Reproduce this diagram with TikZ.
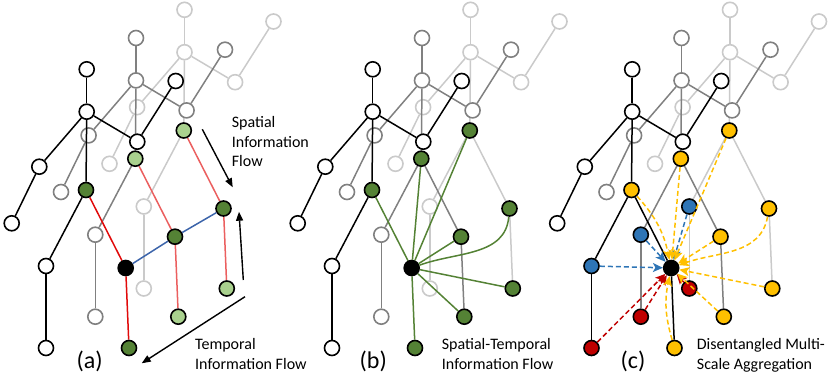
\documentclass[tikz,border=0pt]{standalone}
\usepackage{fontspec}
\setmainfont{Carlito}
\usetikzlibrary{arrows.meta}
\pgfdeclarelayer{f3e}\pgfdeclarelayer{f3n}
\pgfdeclarelayer{f2e}\pgfdeclarelayer{f2n}
\pgfdeclarelayer{f1e}\pgfdeclarelayer{f1n}
\pgfsetlayers{f3e,f3n,f2e,f2n,f1e,f1n,main}
\definecolor{dgreen}{RGB}{84,130,53}
\definecolor{lgreen}{RGB}{169,209,142}
\definecolor{nblue}{RGB}{46,117,182}
\definecolor{nred}{RGB}{192,0,0}
\definecolor{nyel}{RGB}{255,192,0}
\definecolor{redA}{RGB}{225,10,10}
\definecolor{redL}{RGB}{235,95,95}
\definecolor{lblue}{RGB}{60,100,170}
\definecolor{gA}{RGB}{128,128,128}
\definecolor{gB}{RGB}{202,202,202}
\tikzset{
 jn/.style={circle,minimum size=15pt,inner sep=0pt,line width=1.6pt,fill=white},
 bone/.style={line width=1.5pt},
 cn/.style={/tikz/fill=#1,/tikz/draw=black},
 nodehook/.style={/jst/#1/.try},
 edgehook/.style={/est/#1/.try},
 flow/.style={line width=1.4pt,-{Triangle[length=9pt,width=7pt]}},
 dsh/.style={line width=1.5pt,dash pattern=on 5pt off 3pt,-{Stealth[length=10pt,width=9pt,inset=2.5pt]}},
 ydash/.style={dsh,draw=nyel},
 bdash/.style={dsh,draw=nblue},
 rdash/.style={dsh,draw=nred},
 gline/.style={line width=1.5pt,draw=dgreen},
 lab/.style={font=\fontsize{16}{19.5}\selectfont,align=left,inner sep=0pt},
 plab/.style={font=\fontsize{24}{28}\selectfont,inner sep=0pt},
 % panel (a)
 /jst/a1P/.style={/tikz/cn=dgreen},
 /jst/a1K2/.style={/tikz/cn=black},
 /jst/a1F2/.style={/tikz/cn=dgreen},
 /jst/a2P/.style={/tikz/cn=lgreen},
 /jst/a2K2/.style={/tikz/cn=dgreen},
 /jst/a2F2/.style={/tikz/cn=lgreen},
 /jst/a3P/.style={/tikz/cn=lgreen},
 /jst/a3K2/.style={/tikz/cn=dgreen},
 /jst/a3F2/.style={/tikz/cn=lgreen},
 /est/a1PK2/.style={/tikz/draw=redA},
 /est/a1K2F2/.style={/tikz/draw=redA},
 /est/a2PK2/.style={/tikz/draw=redL},
 /est/a2K2F2/.style={/tikz/draw=redL},
 /est/a3PK2/.style={/tikz/draw=redL},
 /est/a3K2F2/.style={/tikz/draw=redL},
 % panel (b)
 /jst/b1K2/.style={/tikz/cn=black},
 /jst/b1P/.style={/tikz/cn=dgreen},
 /jst/b2P/.style={/tikz/cn=dgreen},
 /jst/b3P/.style={/tikz/cn=dgreen},
 /jst/b2K2/.style={/tikz/cn=dgreen},
 /jst/b3K2/.style={/tikz/cn=dgreen},
 /jst/b1F2/.style={/tikz/cn=dgreen},
 /jst/b2F2/.style={/tikz/cn=dgreen},
 /jst/b3F2/.style={/tikz/cn=dgreen},
 /est/b1PK2/.style={/tikz/draw=dgreen},
 /est/b1K2F2/.style={/tikz/draw=dgreen},
 % panel (c)
 /jst/c1K2/.style={/tikz/cn=black},
 /jst/c1P/.style={/tikz/cn=nyel},
 /jst/c2P/.style={/tikz/cn=nyel},
 /jst/c3P/.style={/tikz/cn=nyel},
 /jst/c2K2/.style={/tikz/cn=nyel},
 /jst/c3K2/.style={/tikz/cn=nyel},
 /jst/c1F2/.style={/tikz/cn=nyel},
 /jst/c2F2/.style={/tikz/cn=nyel},
 /jst/c3F2/.style={/tikz/cn=nyel},
 /jst/c1K1/.style={/tikz/cn=nblue},
 /jst/c2K1/.style={/tikz/cn=nblue},
 /jst/c3K1/.style={/tikz/cn=nblue},
 /jst/c1F1/.style={/tikz/cn=nred},
 /jst/c2F1/.style={/tikz/cn=nred},
 /jst/c3F1/.style={/tikz/cn=nred},
}
% #1 prefix, #2 dx, #3 dy, #4 colour, #5 layer number
\newcommand\skelframe[5]{%
 \begin{pgfonlayer}{f#5n}
 \begin{scope}[shift={(#2,#3)}]
  \foreach \j/\x/\y in {H/86.7/69.3, N/86.7/111.7, E1/137.3/141.7, W1/175.7/81,
     E2/39.3/166.7, W2/11.7/223.3, P/86/190, K1/46/266, F1/46/348, K2/125.7/268, F2/129/348}
   {\node[jn,draw=#4,nodehook/.expanded={#1\j}] (#1\j) at (\x,-\y) {};}
 \end{scope}
 \end{pgfonlayer}
 \begin{pgfonlayer}{f#5e}
  \foreach \a/\b in {H/N, N/E1, E1/W1, N/E2, E2/W2, N/P, P/K1, K1/F1, P/K2, K2/F2}
   {\draw[bone,draw=#4,edgehook/.expanded={#1\a\b}] (#1\a) -- (#1\b);}
 \end{pgfonlayer}}
\begin{document}
\begin{tikzpicture}[x=1pt,y=1pt]
\useasboundingbox (0,0) rectangle (830,-374);
% panel (a)
\skelframe{a3}{97.8}{59.5}{gB}{3}
\skelframe{a2}{49.3}{31.3}{gA}{2}
\skelframe{a1}{0}{0}{black}{1}
% panel (b)
\skelframe{b3}{383.8}{59.5}{gB}{3}
\skelframe{b2}{335.3}{31.3}{gA}{2}
\skelframe{b1}{286}{0}{black}{1}
% panel (c)
\skelframe{c3}{643.3}{59.5}{gB}{3}
\skelframe{c2}{594.8}{31.3}{gA}{2}
\skelframe{c1}{545.5}{0}{black}{1}
% (a) connectors
\draw[line width=1.5pt,draw=lblue] (a1K2) -- (a2K2) -- (a3K2);
\coordinate (s1) at (202.3,-129.3); \coordinate (s2) at (232.7,-187.3);
\coordinate (u1) at (243.3,-280);   \coordinate (u2) at (239,-211.7);
\coordinate (t1) at (245,-296.7);   \coordinate (t2) at (141.7,-363.3);
\draw[flow] (s1) -- (s2);
\draw[flow] (u1) -- (u2);
\draw[flow] (t1) -- (t2);
% (b) connectors
\foreach \t in {b2P,b3P,b2K2,b3F2,b2F2} {\draw[gline] (b1K2) -- (\t);}
\draw[gline] (b1K2) to[out=20,in=-95] (b3K2);
% (c) connectors
\foreach \s in {c1K1,c2K1,c3K1} {\draw[bdash] (\s) -- (c1K2);}
\foreach \s in {c1F1,c2F1,c3F1} {\draw[rdash] (\s) -- (c1K2);}
\foreach \s in {c2P,c3P,c2K2,c3F2,c2F2} {\draw[ydash] (\s) -- (c1K2);}
\draw[ydash] (c1P) to[bend left=15] (c1K2);
\draw[ydash] (c3K2) to[out=-100,in=20] (c1K2);
\draw[ydash] (c1F2) to[bend left=14] (c1K2);
% texts (base anchor = last line)
\node[lab,anchor=base west] (tsp) at (231.7,-166.7) {Spatial\\Information\\Flow};
\node[lab,anchor=base west] (ttf) at (195,-369.3) {Temporal\\Information Flow};
\node[lab,anchor=base west] (tst) at (441.7,-369.3) {Spatial-Temporal\\Information Flow};
\node[lab,anchor=base west] (tdm) at (696.7,-369.3) {Disentangled Multi-\\Scale Aggregation};
\node[plab,anchor=base] (la) at (89.7,-368.5) {(a)};
\node[plab,anchor=base] (lb) at (373.3,-368.5) {(b)};
\node[plab,anchor=base] (lc) at (633,-368.5) {(c)};
\end{tikzpicture}
\end{document}
